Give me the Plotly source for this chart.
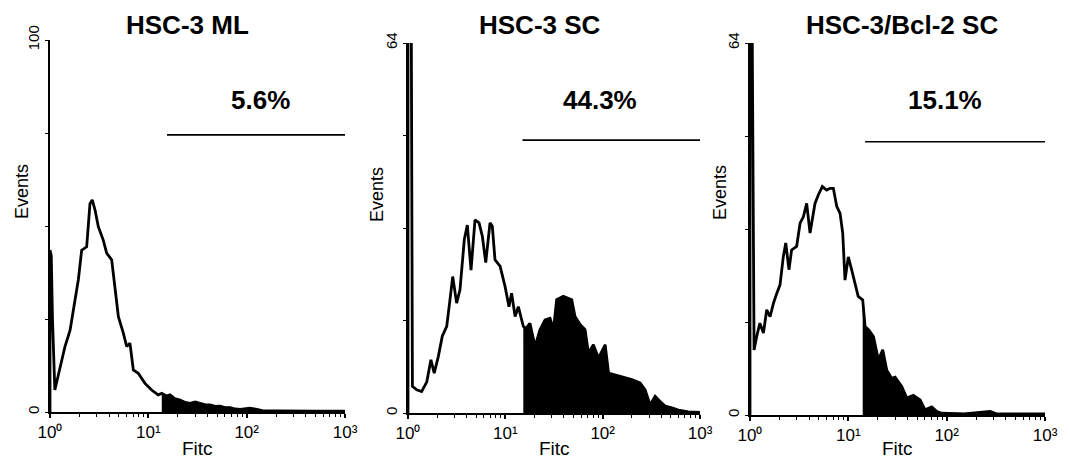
import plotly.graph_objects as go

# ---------------- data ----------------
panel_titles = ["HSC-3 ML", "HSC-3 SC", "HSC-3/Bcl-2 SC"]
percent_labels = ["5.6%", "44.3%", "15.1%"]
y_max = [100, 64, 64]
y_minor_ticks = [[25, 50, 75], [16, 32, 48], [16, 32, 48]]

p1_fitc = [1.00, 1.00, 1.03, 1.06, 1.12, 1.26, 1.42, 1.60, 1.80, 1.94, 2.10, 2.36, 2.55, 2.69,
           2.87, 3.10, 3.48, 3.77, 4.24, 4.58, 4.96, 5.57, 6.02, 6.50, 7.04, 7.90, 9.25, 10.8,
           12.6, 13.7, 15.2, 16.6, 18.5, 21.0, 23.5, 26.6, 30.0, 33.6, 38.0, 42.4, 48.0, 53.7,
           60.0, 67.8, 76.0, 85.9, 97.0, 108, 127, 147, 200, 300, 500, 1000]
p1_count = [0, 43.5, 42.0, 25.0, 5.9, 11.3, 17.6, 22.0, 30.0, 35.5, 43.5, 44.4, 56.0, 57.0,
            54.3, 49.8, 46.2, 42.7, 40.9, 32.8, 25.6, 21.2, 17.6, 18.5, 11.3, 10.4, 7.7, 5.9,
            4.6, 5.0, 4.3, 4.6, 3.6, 3.2, 2.6, 2.3, 2.7, 2.3, 1.9, 1.9, 1.5, 1.6,
            1.2, 1.2, 0.8, 0.7, 0.9, 1.0, 0.7, 0.3, 0.3, 0.2, 0.2, 0.2]
p1_fill_from = 13.7
p1_gate = [15.5, 1000, 74.5]

p2_fitc = [1.00, 1.00, 1.08, 1.11, 1.23, 1.38, 1.56, 1.72, 1.86, 2.05, 2.25, 2.50, 2.70, 2.88,
           3.16, 3.42, 3.79, 4.07, 4.44, 4.88, 5.37, 5.80, 6.29, 6.96, 7.35, 7.83, 8.83, 9.93,
           10.9, 11.6, 12.6, 13.6, 15.3, 16.2, 17.9, 20.2, 22.7, 25.6, 28.8, 31.2, 33.7, 39.4,
           48.1, 52.0, 58.6, 65.9, 71.3, 80.3, 90.4, 106, 115, 134, 163, 199, 242, 273, 307,
           346, 389, 438, 513, 600, 759, 1000]
p2_count = [0, 70, 70, 4.6, 4.0, 3.7, 5.4, 9.2, 6.9, 9.8, 13.3, 15.0, 19.6, 23.6,
            19.0, 21.3, 30.0, 32.5, 24.7, 33.4, 32.9, 30.6, 26.0, 32.9, 32.3, 26.5, 25.4, 21.9,
            18.4, 20.7, 16.7, 18.4, 15.0, 14.6, 15.5, 11.5, 14.4, 16.1, 16.4, 14.4, 19.6, 20.2,
            19.6, 16.7, 15.3, 14.4, 10.4, 11.8, 9.5, 11.8, 6.9, 6.6, 6.3, 5.8, 5.2, 4.0, 1.4,
            2.9, 2.0, 1.2, 0.9, 0.5, 0.2, 0.1]
p2_fill_from = 15.3
p2_gate = [15.0, 1000, 47.2]

p3_fitc = [1.00, 1.00, 1.05, 1.10, 1.17, 1.26, 1.37, 1.48, 1.60, 1.73, 1.87, 2.02, 2.18, 2.31,
           2.49, 2.65, 2.98, 3.23, 3.49, 3.77, 4.08, 4.58, 4.96, 5.44, 6.02, 6.51, 7.04, 7.62,
           8.24, 8.77, 9.25, 10.0, 10.8, 11.7, 12.6, 14.0, 14.8, 16.2, 18.0, 20.2, 22.4, 24.6,
           27.6, 29.9, 34.9, 39.3, 45.8, 53.7, 60.3, 70.5, 79.4, 89.0, 150, 277, 320, 1000]
p3_count = [0, 70, 70, 11.2, 13.5, 15.8, 14.1, 18.1, 16.9, 19.2, 20.9, 22.4, 27.2, 29.6,
            25.0, 28.4, 29.0, 33.0, 34.1, 36.4, 31.3, 36.4, 37.9, 39.3, 38.7, 39.0, 39.0, 35.9,
            34.7, 31.3, 23.2, 27.2, 25.0, 22.7, 20.4, 19.8, 15.2, 14.6, 13.5, 9.5, 11.2, 7.7,
            6.3, 6.5, 4.9, 2.9, 3.4, 2.6, 0.9, 1.4, 0.6, 0.3, 0.2, 0.6, 0.2, 0.2]
p3_fill_from = 14.0
p3_gate = [14.8, 1000, 47.0]

x_tick_vals = [1, 10, 100, 1000]
x_tick_text = ["10\u2070", "10\u00b9", "10\u00b2", "10\u00b3"]

# ---------------- layout geometry ----------------
W, H = 1070, 474
FONT = "Liberation Sans, Arial, sans-serif"
# (left, right, bottom, top) in pixels
boxes = [(50, 345, 412, 40), (408, 700, 413, 43), (750, 1045, 415, 43)]
title_px = [(187, 25), (540, 25), (902, 25)]
pct_px = [(260, 100), (600, 100), (945, 100)]
events_px = [(22, 192), (377, 195), (720, 193)]

panels = [
    (p1_fitc, p1_count, p1_fill_from, p1_gate),
    (p2_fitc, p2_count, p2_fill_from, p2_gate),
    (p3_fitc, p3_count, p3_fill_from, p3_gate),
]

minor_vals = [m * d for d in (1, 10, 100) for m in range(2, 10)]

fig = go.Figure()
annotations = []
layout = dict(width=W, height=H, margin=dict(l=0, r=0, t=0, b=0, autoexpand=False),
              template="none",
              paper_bgcolor="white", plot_bgcolor="white", showlegend=False,
              font=dict(family=FONT, color="black"))

for i, (fx, cnt, fill_from, gate) in enumerate(panels):
    n = "" if i == 0 else str(i + 1)
    xa, ya = "x" + n, "y" + n
    l, r, b, t = boxes[i]

    # gated (filled) part
    gx = [v for v in fx if v >= fill_from]
    gy = [c for v, c in zip(fx, cnt) if v >= fill_from]
    fig.add_trace(go.Scatter(x=gx, y=gy, mode="lines", xaxis=xa, yaxis=ya, fill="tozeroy",
                             fillcolor="black", line=dict(color="black", width=1.5),
                             hoverinfo="skip"))
    # outline histogram
    fig.add_trace(go.Scatter(x=fx, y=cnt, mode="lines", xaxis=xa, yaxis=ya,
                             line=dict(color="black", width=2.8), hoverinfo="skip"))
    # gate marker line
    fig.add_trace(go.Scatter(x=[gate[0], gate[1]], y=[gate[2], gate[2]], mode="lines",
                             xaxis=xa, yaxis=ya, line=dict(color="black", width=1.6),
                             hoverinfo="skip"))

    ymax = y_max[i]
    layout["xaxis" + n] = dict(
        type="log", range=[0, 3], domain=[l / W, r / W], anchor=ya, automargin=False,
        showline=True, linecolor="black", linewidth=2, mirror=False,
        showgrid=False, zeroline=False,
        tickmode="array", tickvals=x_tick_vals, ticktext=x_tick_text,
        ticks="outside", ticklen=4, tickwidth=1.5, tickcolor="black",
        tickfont=dict(size=17, family=FONT, color="black"),
        minor=dict(tickmode="array", tickvals=minor_vals, ticks="outside",
                   ticklen=3, tickwidth=1, tickcolor="black", showgrid=False),
    )
    layout["yaxis" + n] = dict(
        range=[0, ymax], domain=[1 - b / H, 1 - t / H], anchor=xa, automargin=False,
        showline=True, linecolor="black", linewidth=1.8,
        showgrid=False, zeroline=False,
        tickmode="array", tickvals=[0, ymax], ticktext=["0", str(ymax)], tickangle=-90,
        ticks="outside", ticklen=3, tickwidth=1, tickcolor="black",
        tickfont=dict(size=15, family=FONT, color="black"),
        minor=dict(tickmode="array", tickvals=y_minor_ticks[i], ticks="outside",
                   ticklen=3, tickwidth=1, tickcolor="black", showgrid=False),
    )

    tx, ty = title_px[i]
    annotations.append(dict(text="<b>%s</b>" % panel_titles[i], x=tx / W, y=1 - ty / H,
                            xref="paper", yref="paper", showarrow=False,
                            font=dict(size=26, family=FONT, color="black"),
                            xanchor="center", yanchor="middle"))
    px_, py_ = pct_px[i]
    annotations.append(dict(text="<b>%s</b>" % percent_labels[i], x=px_ / W, y=1 - py_ / H,
                            xref="paper", yref="paper", showarrow=False,
                            font=dict(size=26, family=FONT, color="black"),
                            xanchor="center", yanchor="middle"))
    ex, ey = events_px[i]
    annotations.append(dict(text="Events", x=ex / W, y=1 - ey / H, xref="paper", yref="paper",
                            showarrow=False, textangle=-90,
                            font=dict(size=18, family=FONT, color="black"),
                            xanchor="center", yanchor="middle"))
    annotations.append(dict(text="Fitc", x=((l + r) / 2) / W, y=1 - 448 / H,
                            xref="paper", yref="paper", showarrow=False,
                            font=dict(size=19, family=FONT, color="black"),
                            xanchor="center", yanchor="middle"))

layout["annotations"] = annotations
fig.update_layout(**layout)
fig.write_html("out.html")
